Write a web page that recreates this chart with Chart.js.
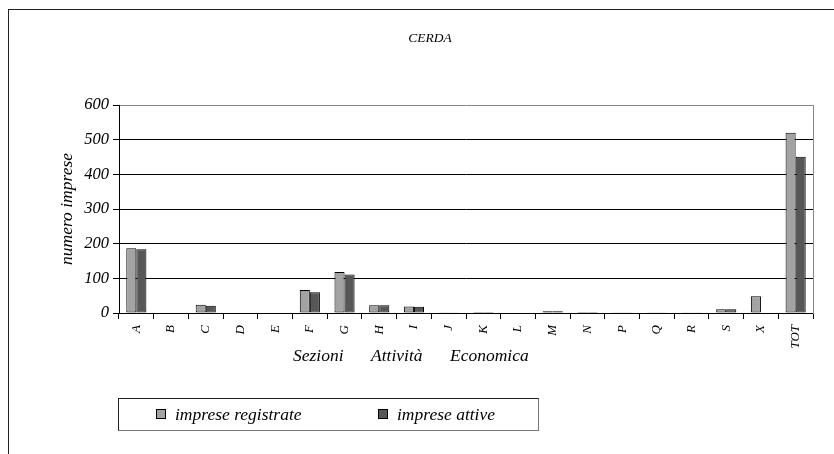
<!DOCTYPE html>
<html>
<head>
<meta charset="utf-8">
<script src="https://cdn.jsdelivr.net/npm/chart.js@4/dist/chart.umd.min.js"></script>
<style>
  html, body { margin: 0; padding: 0; background: #fff; width: 834px; height: 454px; overflow: hidden; }
  #frame { position: absolute; left: 8px; top: 9px; width: 900px; height: 500px; border-left: 1px solid #222; border-top: 1px solid #222; }
  #wrap { position: absolute; left: 9px; top: 10px; width: 842px; height: 444px; }
  #legend { position: absolute; left: 118px; top: 398px; width: 419px; height: 31px; border: 1px solid #222; border-right-color: #777; border-bottom-color: #777;
            font: italic 17.5px "Liberation Serif", serif; color: #000; }
  .item { position: absolute; top: 5px; white-space: nowrap; }
  .sw { display: inline-block; width: 8px; height: 8px; border: 1px solid #000; margin-right: 9px; vertical-align: 1px; }
</style>
</head>
<body>
<div id="frame"></div>
<div id="wrap"><canvas id="c" width="842" height="444"></canvas></div>
<div id="legend"></div>
<script>
const chartTitle = 'CERDA';
const categories = ['A','B','C','D','E','F','G','H','I','J','K','L','M','N','P','Q','R','S','X','TOT'];
const seriesNames = ['imprese registrate', 'imprese attive'];
const registrate = [187, 0, 24, 0, 0, 66, 118, 22, 19, 2, 3, 0, 5, 3, 1, 2, 2, 11, 48, 520];
const attive     = [184, 0, 21, 0, 0, 60, 111, 22, 18, 1, 3, 0, 5, 3, 1, 2, 2, 11, 0, 451];
const yTicks = [0, 100, 200, 300, 400, 500, 600];
const xTitleWords = ['Sezioni', 'Attività', 'Economica'];
const yTitle = 'numero imprese';
const colors = ['#a3a3a3', '#575757'];

const FONT = '"Liberation Serif", serif';

const extras = {
  id: 'extras',
  afterDraw(chart) {
    const ctx = chart.ctx;
    const a = chart.chartArea;
    ctx.save();
    ctx.fillStyle = '#000';
    ctx.font = 'italic 17.5px ' + FONT;
    ctx.textAlign = 'left';
    ctx.textBaseline = 'middle';
    const offs = [174, 252, 331];
    xTitleWords.forEach((w, i) => ctx.fillText(w, a.left + offs[i], a.bottom + 43));
    ctx.restore();
  }
};

const chart = new Chart(document.getElementById('c'), {
  type: 'bar',
  data: {
    labels: categories,
    datasets: [
      { label: seriesNames[0], data: registrate, backgroundColor: colors[0], borderColor: '#000', borderWidth: 1, borderSkipped: false,
        categoryPercentage: 0.58, barPercentage: 1.0 },
      { label: seriesNames[1], data: attive, backgroundColor: colors[1], borderColor: '#000', borderWidth: 1, borderSkipped: false,
        categoryPercentage: 0.58, barPercentage: 1.0 }
    ]
  },
  options: {
    responsive: false,
    animation: false,
    devicePixelRatio: 1,
    layout: { padding: { left: 0, right: 0, top: 0, bottom: 0 } },
    plugins: {
      legend: { display: false },
      tooltip: { enabled: false },
      title: { display: true, text: chartTitle, color: '#000', font: { family: FONT, size: 13.5, style: 'italic', weight: 'normal' },
               padding: { top: 20, bottom: 58.8 } }
    },
    scales: {
      x: {
        afterFit(s) { s.height = 141; },
        grid: { display: true, drawOnChartArea: false, drawTicks: true, tickLength: 6, color: '#000', offset: true },
        border: { display: true, color: '#000', width: 1 },
        ticks: { autoSkip: false, maxRotation: 90, minRotation: 90, padding: 6, color: '#000',
                 font: { family: FONT, size: 13, style: 'italic' } }
      },
      y: {
        min: 0, max: 600,
        afterFit(s) { s.width = 110; },
        afterBuildTicks(s) { s.ticks = yTicks.map(v => ({ value: v })); },
        grid: { color: (c) => (c.tick && c.tick.value === 600 ? '#888' : '#000'), tickColor: '#000', tickLength: 6, drawTicks: true },
        border: { display: true, color: '#000', width: 1 },
        ticks: { padding: 4, color: '#000', font: { family: FONT, size: 16.5, style: 'italic' } },
        title: { display: true, text: yTitle, color: '#000', font: { family: FONT, size: 17.5, style: 'italic' }, padding: { top: 48, bottom: 0 } }
      },
      yRight: {
        position: 'right',
        afterFit(s) { s.width = 38; },
        grid: { display: false, drawTicks: false },
        ticks: { display: false },
        border: { display: true, color: '#888', width: 1 }
      }
    }
  },
  plugins: [extras]
});

// legend built from the datasets
const lg = document.getElementById('legend');
const pos = [37, 259];
chart.data.datasets.forEach((ds, i) => {
  const it = document.createElement('div');
  it.className = 'item';
  it.style.left = pos[i] + 'px';
  const sw = document.createElement('span');
  sw.className = 'sw';
  sw.style.background = ds.backgroundColor;
  it.appendChild(sw);
  it.appendChild(document.createTextNode(ds.label));
  lg.appendChild(it);
});
</script>
</body>
</html>
